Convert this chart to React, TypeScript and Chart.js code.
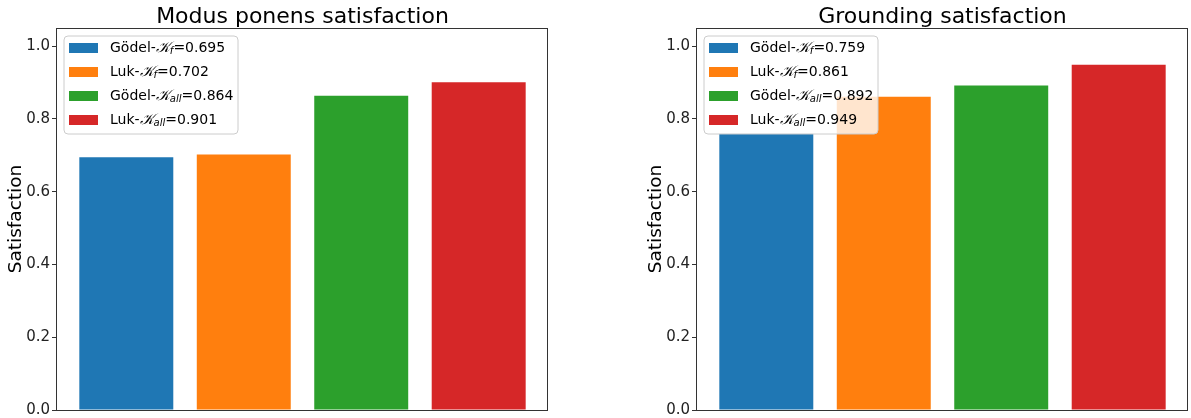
import React, { useEffect, useRef } from "react";
import { Chart, registerables } from "chart.js";

Chart.register(...registerables);

const FONT = "'DejaVu Sans', sans-serif";

const positions = [0, 1, 2, 3];
const seriesPrefixes = ["Gödel-", "Luk-", "Gödel-", "Luk-"];
const seriesSubscripts = ["f", "f", "all", "all"];
const colors = ["#1f77b4", "#ff7f0e", "#2ca02c", "#d62728"];
const modusValues = [0.695, 0.702, 0.864, 0.901];
const groundingValues = [0.759, 0.861, 0.892, 0.949];
const yTicks = [0, 0.2, 0.4, 0.6, 0.8, 1.0];
const titles = ["Modus ponens satisfaction", "Grounding satisfaction"];

function makePlugin(title: string, values: number[]) {
  return {
    id: "custom" + title.replace(/\s/g, ""),
    afterDraw(chart: any) {
      const { ctx, chartArea } = chart;
      const { left, top, right, bottom } = chartArea;
      ctx.save();
      // frame
      ctx.strokeStyle = "#333";
      ctx.lineWidth = 1;
      ctx.strokeRect(Math.round(left) - 0.5, Math.round(top) + 0.5, Math.round(right - left), Math.round(bottom - top));
      // title
      ctx.fillStyle = "#000";
      ctx.font = `22px ${FONT}`;
      ctx.textAlign = "center";
      ctx.textBaseline = "alphabetic";
      ctx.fillText(title, (left + right) / 2, top - 5);
      // legend
      const bx = left + 7;
      const by = top + 8;
      const bw = 174;
      const bh = 98;
      const r = 4;
      ctx.beginPath();
      ctx.moveTo(bx + r, by);
      ctx.lineTo(bx + bw - r, by);
      ctx.quadraticCurveTo(bx + bw, by, bx + bw, by + r);
      ctx.lineTo(bx + bw, by + bh - r);
      ctx.quadraticCurveTo(bx + bw, by + bh, bx + bw - r, by + bh);
      ctx.lineTo(bx + r, by + bh);
      ctx.quadraticCurveTo(bx, by + bh, bx, by + bh - r);
      ctx.lineTo(bx, by + r);
      ctx.quadraticCurveTo(bx, by, bx + r, by);
      ctx.closePath();
      ctx.fillStyle = "rgba(255,255,255,0.8)";
      ctx.fill();
      ctx.strokeStyle = "#cccccc";
      ctx.lineWidth = 1;
      ctx.stroke();
      ctx.textAlign = "left";
      ctx.textBaseline = "middle";
      for (let i = 0; i < values.length; i++) {
        const cy = by + 12 + 24 * i;
        ctx.fillStyle = colors[i];
        ctx.fillRect(bx + 5, cy - 5, 29, 10);
        let x = bx + 46;
        ctx.fillStyle = "#000";
        ctx.font = `14px ${FONT}`;
        ctx.fillText(seriesPrefixes[i], x, cy);
        x += ctx.measureText(seriesPrefixes[i]).width;
        ctx.font = `italic 15px 'DejaVu Serif', serif`;
        ctx.fillText("\u{1D4A6}", x, cy);
        x += ctx.measureText("\u{1D4A6}").width;
        ctx.font = `italic 10px ${FONT}`;
        ctx.fillText(seriesSubscripts[i], x, cy + 3);
        x += ctx.measureText(seriesSubscripts[i]).width;
        ctx.font = `14px ${FONT}`;
        ctx.fillText("=" + values[i].toFixed(3), x, cy);
      }
      ctx.restore();
    },
  };
}

function SubChart({ title, values, width, padRight, left }: any) {
  const ref = useRef<HTMLCanvasElement>(null);
  useEffect(() => {
    const chart = new Chart(ref.current!, {
      type: "bar",
      data: {
        datasets: [
          {
            data: positions.map((p, i) => ({ x: p, y: values[i] })),
            backgroundColor: colors,
            borderWidth: 0,
            categoryPercentage: 1,
            barPercentage: 0.8,
          },
        ],
      },
      options: {
        animation: false,
        responsive: false,
        layout: { padding: { top: 28, bottom: 8, left: 0, right: padRight } },
        plugins: { legend: { display: false }, tooltip: { enabled: false } },
        scales: {
          x: {
            type: "linear",
            min: -0.59,
            max: 3.59,
            offset: false,
            afterBuildTicks: (s: any) => {
              s.ticks = positions.map((v) => ({ value: v }));
            },
            ticks: { display: false },
            grid: { display: false, offset: false },
            border: { display: false },
            afterFit: (s: any) => {
              s.height = 0;
              s.paddingLeft = 0;
              s.paddingRight = 0;
            },
          },
          y: {
            min: 0,
            max: 1.05,
            afterBuildTicks: (s: any) => {
              s.ticks = yTicks.map((v) => ({ value: v }));
            },
            ticks: {
              font: { family: FONT, size: 15 },
              color: "#222",
              padding: 2,
              callback: (v: any) => Number(v).toFixed(1),
            },
            grid: { drawOnChartArea: false, drawTicks: true, tickLength: 5, color: "#333" },
            border: { display: false },
            title: {
              display: true,
              text: "Satisfaction",
              font: { family: FONT, size: 18.5 },
              color: "#000",
              padding: { top: 5, bottom: 0 },
            },
            afterFit: (s: any) => {
              s.width = 57;
              s.paddingTop = 0;
              s.paddingBottom = 0;
            },
          },
        },
      },
      plugins: [makePlugin(title, values)],
    } as any);
    return () => chart.destroy();
  }, []);
  return (
    <canvas
      ref={ref}
      width={width}
      height={418}
      style={{ position: "absolute", left, top: 0, width, height: 418 }}
    />
  );
}

export default function App() {
  return (
    <div style={{ position: "absolute", left: 0, top: 0, width: 1191, height: 418, background: "#fff" }}>
      <SubChart title={titles[0]} values={modusValues} width={595} padRight={47} left={0} />
      <SubChart title={titles[1]} values={groundingValues} width={551} padRight={3} left={640} />
    </div>
  );
}
